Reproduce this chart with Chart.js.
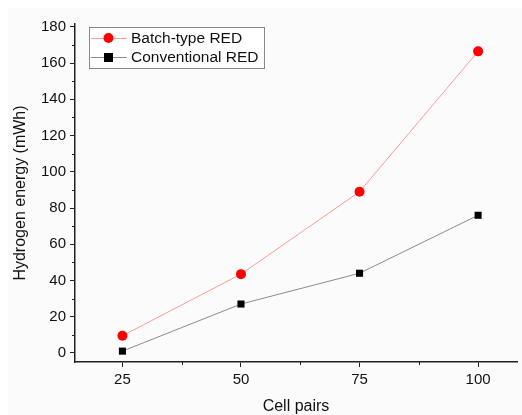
<!DOCTYPE html>
<html>
<head>
<meta charset="utf-8">
<script src="https://cdn.jsdelivr.net/npm/chart.js@4"></script>
<style>
  html, body { margin: 0; padding: 0; background: #fff; }
  #wrap { width: 522px; height: 415px; }
</style>
</head>
<body>
<div id="wrap"><canvas id="chart" width="522" height="415"></canvas></div>
<script>
// data
const cellPairs = [25, 50, 75, 100];
const batchRED = [9.5, 43.5, 89, 166.5];
const conventionalRED = [1, 27, 44, 76];
const xTicks = [25, 50, 75, 100];
const yTicks = [0, 20, 40, 60, 80, 100, 120, 140, 160, 180];

const FONT = 'Arial, "Liberation Sans", sans-serif';

function toPoints(ys) {
    return cellPairs.map((x, i) => ({ x: x, y: ys[i] }));
}

// minor ticks halfway between major ones, legend box inside the plot
const extras = {
    id: 'extras',
    beforeDraw(chart) {
        const ctx = chart.ctx;
        ctx.save();
        ctx.fillStyle = '#fbfbfb';
        ctx.fillRect(8, 8, chart.width - 8, chart.height - 8);
        ctx.restore();
    },
    afterDraw(chart) {
        const ctx = chart.ctx;
        const area = chart.chartArea;
        const xs = chart.scales.x, ys = chart.scales.y;
        ctx.save();
        ctx.strokeStyle = '#222';
        ctx.lineWidth = 1;
        ctx.beginPath();
        for (let i = 0; i < xTicks.length; i++) {
            const v = xTicks[i] + 12.5;
            if (v > xs.max) continue;
            const px = Math.round(xs.getPixelForValue(v)) + 0.5;
            ctx.moveTo(px, area.bottom);
            ctx.lineTo(px, area.bottom + 3);
        }
        for (let i = 0; i < yTicks.length - 1; i++) {
            const v = yTicks[i] + 10;
            const py = Math.round(ys.getPixelForValue(v)) + 0.5;
            ctx.moveTo(area.left, py);
            ctx.lineTo(area.left - 3, py);
        }
        ctx.stroke();

        // legend
        const lx = area.left + 14, ly = area.top + 3;
        ctx.fillStyle = '#fff';
        ctx.fillRect(lx, ly, 175, 41);
        ctx.strokeStyle = '#888';
        ctx.strokeRect(lx + 0.5, ly + 0.5, 175, 41);
        ctx.font = '15.5px ' + FONT;
        ctx.textBaseline = 'middle';
        chart.data.datasets.forEach((ds, i) => {
            const cy = ly + 11 + i * 19;
            ctx.strokeStyle = ds.borderColor;
            ctx.beginPath();
            ctx.moveTo(lx + 2, cy + 0.5);
            ctx.lineTo(lx + 38, cy + 0.5);
            ctx.stroke();
            ctx.fillStyle = ds.pointBackgroundColor;
            if (ds.pointStyle === 'rect') {
                ctx.fillRect(lx + 15, cy - 4, 9, 9);
            } else {
                ctx.beginPath();
                ctx.arc(lx + 19.5, cy, 5, 0, Math.PI * 2);
                ctx.fill();
            }
            ctx.fillStyle = '#111';
            ctx.fillText(ds.label, lx + 42, cy + 1);
        });
        ctx.restore();
    }
};

new Chart(document.getElementById('chart'), {
    type: 'line',
    data: {
        datasets: [{
            label: 'Batch-type RED',
            data: toPoints(batchRED),
            borderColor: '#ff9a9a',
            borderWidth: 1,
            pointStyle: 'circle',
            pointRadius: 5,
            pointBackgroundColor: '#ff0000',
            pointBorderWidth: 0
        }, {
            label: 'Conventional RED',
            data: toPoints(conventionalRED),
            borderColor: '#8c8c8c',
            borderWidth: 1,
            pointStyle: 'rect',
            pointRadius: 5,
            pointBackgroundColor: '#000',
            pointBorderWidth: 0
        }]
    },
    options: {
        responsive: false,
        animation: false,
        layout: { padding: { left: 0, right: 1, top: 24, bottom: 0 } },
        plugins: {
            legend: { display: false },
            tooltip: { enabled: false }
        },
        scales: {
            x: {
                type: 'linear',
                min: 15,
                max: 108.2,
                afterFit: s => { s.height = 53; },
                afterBuildTicks: s => { s.ticks = xTicks.map(v => ({ value: v })); },
                border: { color: '#222', width: 1.5 },
                grid: { drawOnChartArea: false, tickLength: 5, color: '#222' },
                ticks: { color: '#111', font: { size: 15, family: FONT }, padding: 4 },
                title: {
                    display: true, text: 'Cell pairs', color: '#111',
                    font: { size: 16, family: FONT, lineHeight: 1 }, padding: { bottom: 0 }
                }
            },
            y: {
                min: -5,
                max: 181.6,
                afterFit: s => { s.width = 75; },
                afterBuildTicks: s => { s.ticks = yTicks.map(v => ({ value: v })); },
                border: { color: '#222', width: 1.5 },
                grid: { drawOnChartArea: false, tickLength: 5, color: '#222' },
                ticks: { color: '#111', font: { size: 15, family: FONT }, padding: 4 },
                title: {
                    display: true, text: 'Hydrogen energy (mWh)', color: '#111',
                    font: { size: 16, family: FONT, lineHeight: 1.2 }, padding: { top: 11 }
                }
            }
        }
    },
    plugins: [extras]
});
</script>
</body>
</html>
